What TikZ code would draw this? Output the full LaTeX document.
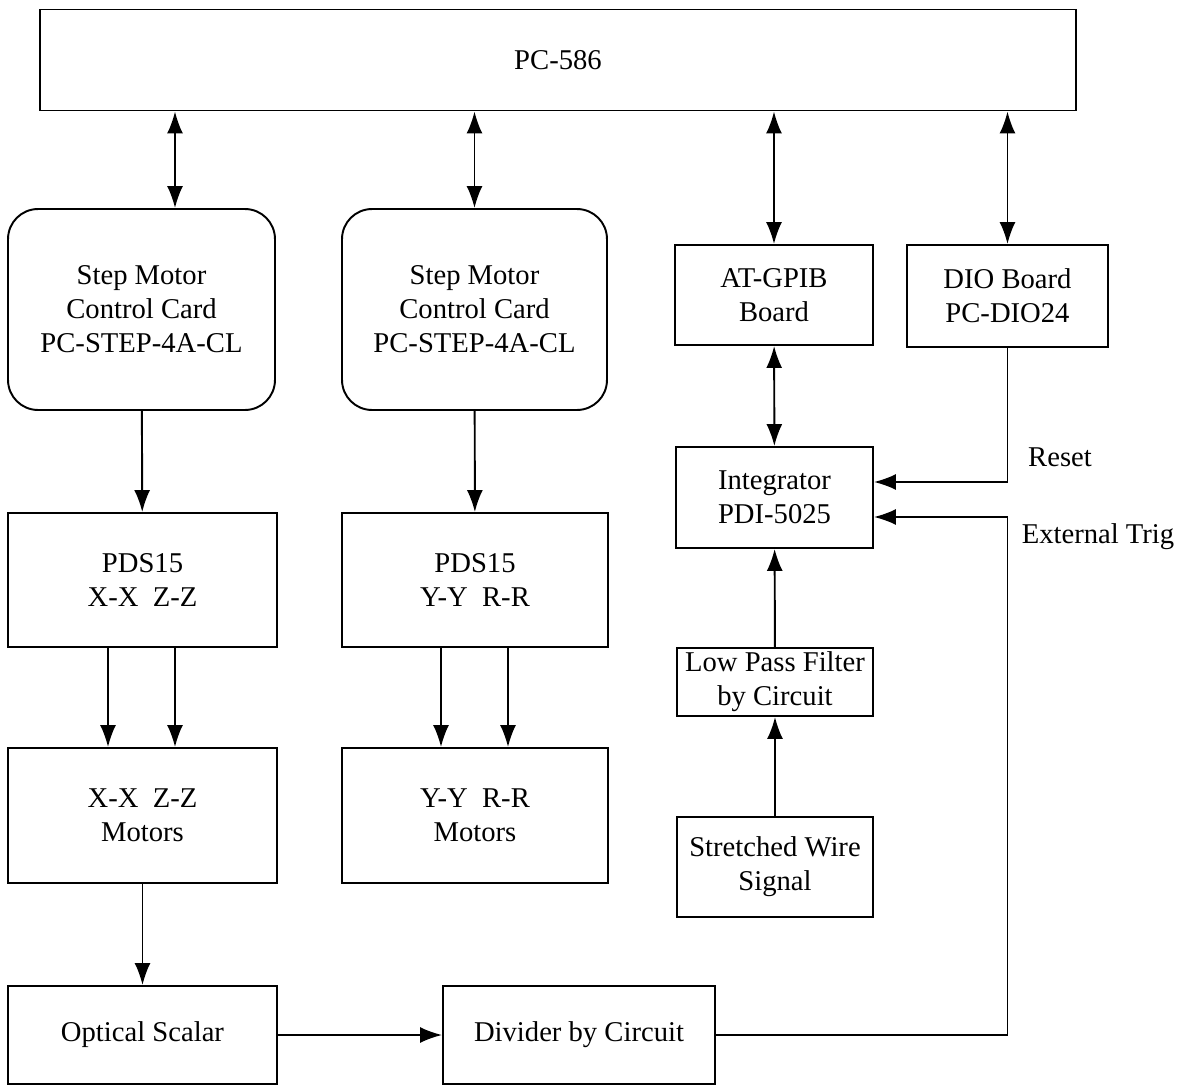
\documentclass[tikz,border=0pt]{standalone}
\usepackage{fontspec}
\setmainfont{Liberation Serif}
\usetikzlibrary{arrows.meta,calc}

\begin{document}
\begin{tikzpicture}[x=0.02cm,y=-0.02cm,
		font=\fontsize{16.3}{19.4}\selectfont,
		box/.style={draw, line width=1.1pt, align=center, inner sep=0pt},
		rbox/.style={box, rounded corners=0.6cm},
		arr/.style={line width=1.1pt, -{Latex[length=4.4mm,width=3.2mm]}},
		darr/.style={line width=1.1pt, {Latex[length=4.4mm,width=3.2mm]}-{Latex[length=4.4mm,width=3.2mm]}}]
		\useasboundingbox (0,0) rectangle (1181,1085);
		\node[box, minimum width=20.72cm, minimum height=2.02cm] (pc) at (558,60) {PC-586};
		\node[rbox, minimum width=5.34cm, minimum height=4.02cm] (card1) at (141.5,309.5) {Step Motor\\Control Card\\PC-STEP-4A-CL};
		\node[rbox, minimum width=5.3cm, minimum height=4.02cm] (card2) at (474.5,309.5) {Step Motor\\Control Card\\PC-STEP-4A-CL};
		\node[box, minimum width=3.96cm, minimum height=2cm] (gpib) at (774,295) {AT-GPIB\\Board};
		\node[box, minimum width=4.02cm, minimum height=2.04cm] (dio) at (1007.5,296) {DIO Board\\PC-DIO24};
		\node[box, minimum width=3.94cm, minimum height=2.02cm] (integ) at (774.5,497.5) {Integrator\\PDI-5025};
		\node[box, minimum width=5.38cm, minimum height=2.68cm] (pdsx) at (142.5,580) {PDS15\\X-X\ \ Z-Z};
		\node[box, minimum width=5.32cm, minimum height=2.68cm] (pdsy) at (475,580) {PDS15\\Y-Y\ \ R-R};
		\node[box, minimum width=3.92cm, minimum height=1.36cm] (lpf) at (775,682) {Low Pass Filter\\by Circuit};
		\node[box, minimum width=5.38cm, minimum height=2.7cm] (motx) at (142.5,815.5) {X-X\ \ Z-Z\\Motors};
		\node[box, minimum width=5.32cm, minimum height=2.7cm] (moty) at (475,815.5) {Y-Y\ \ R-R\\Motors};
		\node[box, minimum width=3.92cm, minimum height=2cm] (wire) at (775,867) {Stretched Wire\\Signal};
		\node[box, minimum width=5.38cm, minimum height=1.96cm] (opt) at (142.5,1035) {Optical Scalar};
		\node[box, minimum width=5.44cm, minimum height=1.96cm] (div) at (579,1035) {Divider by Circuit};
		\node (reset) at (1060,457) {Reset};
		\node (trig) at (1098,537) {External Trig};
		\coordinate (l1) at (175,0);
		\coordinate (l2) at (108,0);
		\coordinate (l3) at (441,0);
		\coordinate (l4) at (508,0);
		\coordinate (rst) at ($(integ.east)+(0,-15.5)$);
		\coordinate (trg) at ($(integ.east)+(0,19.5)$);
		% links to the PC
		\draw[darr] (pc.south -| l1) -- (card1.north -| l1);
		\draw[darr] (pc.south -| card2.north) -- (card2.north);
		\draw[darr] (pc.south -| gpib.north) -- (gpib.north);
		\draw[darr] (pc.south -| dio.north) -- (dio.north);
		\draw[arr] (card1) -- (pdsx);
		\draw[arr] (card2) -- (pdsy);
		\draw[arr] (pdsx.south -| l2) -- (motx.north -| l2);
		\draw[arr] (pdsx.south -| l1) -- (motx.north -| l1);
		\draw[arr] (pdsy.south -| l3) -- (moty.north -| l3);
		\draw[arr] (pdsy.south -| l4) -- (moty.north -| l4);
		\draw[arr] (motx) -- (opt);
		\draw[arr] (opt) -- (div);
		\draw[darr] (gpib) -- (integ);
		\draw[arr] (lpf) -- (integ);
		\draw[arr] (wire) -- (lpf);
		\draw[arr] (dio.south) |- (rst);
		\draw[arr] (div.east) -| (dio.south |- trg) -- (trg);
	\end{tikzpicture}
\end{document}
